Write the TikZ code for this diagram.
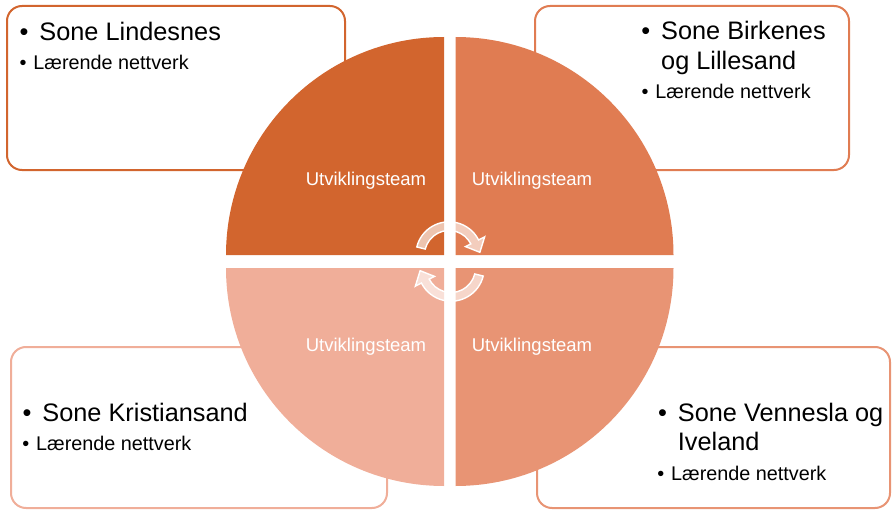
\documentclass[tikz,border=0pt]{standalone}
\usepackage{fontspec}
\setmainfont{Liberation Sans}
\definecolor{cTL}{HTML}{D2652E}
\definecolor{cTR}{HTML}{E07C52}
\definecolor{cBL}{HTML}{F0AE99}
\definecolor{cBR}{HTML}{E89474}
\begin{document}
\begin{tikzpicture}[x=1pt,y=-1pt,
  zone/.style={draw=#1, line width=2pt, rounded corners=15pt, fill=white},
  quad/.style={fill=#1},
  team/.style={text=white, font=\fontsize{18.5}{20}\selectfont, inner sep=0pt, anchor=base},
  head/.style={font=\fontsize{25.3}{28}\selectfont, inner sep=0pt, anchor=base west, text=black},
  sub/.style={font=\fontsize{19.8}{22}\selectfont, inner sep=0pt, anchor=base west, text=black},
  cyc/.style={fill=white, fill opacity=0.62, draw=white, line width=1.4pt}]
\useasboundingbox (0,0) rectangle (892,511);

% zone boxes
\path[zone=cTL] (7,6) rectangle (345,170);
\path[zone=cTR] (535,6) rectangle (849,170);
\path[zone=cBL] (11,347) rectangle (387,508);
\path[zone=cBR] (537,347) rectangle (890,508);

% quadrants
\fill[quad=cTL] (444,255) -- ++(-218,0) arc[start angle=180, end angle=270, radius=218] -- cycle;
\fill[quad=cTR] (455.5,255) -- ++(218,0) arc[start angle=0, end angle=-90, radius=218] -- cycle;
\fill[quad=cBL] (444,268) -- ++(-218,0) arc[start angle=180, end angle=90, radius=218] -- cycle;
\fill[quad=cBR] (455.5,268) -- ++(218,0) arc[start angle=0, end angle=90, radius=218] -- cycle;

% team labels
\node[team] (t1) at (366,185.7) {Utviklingsteam};
\node[team] (t2) at (532,185.7) {Utviklingsteam};
\node[team] (t3) at (366,351) {Utviklingsteam};
\node[team] (t4) at (532,351) {Utviklingsteam};

% zone texts
\node[head] (h1) at (19.5,40.7) {\makebox[19.8pt][l]{•}Sone Lindesnes};
\node[sub] (s1) at (19.5,70) {\makebox[13.8pt][l]{•}Lærende nettverk};

\node[head] (h2a) at (641.2,40) {\makebox[19.8pt][l]{•}Sone Birkenes};
\node[head] (h2b) at (661,69.3) {og Lillesand};
\node[sub] (s2) at (641.5,99) {\makebox[13.8pt][l]{•}Lærende nettverk};

\node[head] (h3) at (22.5,421) {\makebox[19.8pt][l]{•}Sone Kristiansand};
\node[sub] (s3) at (22.2,450) {\makebox[13.8pt][l]{•}Lærende nettverk};

\node[head] (h4a) at (657.9,421.7) {\makebox[19.8pt][l]{•}Sone Vennesla og};
\node[head] (h4b) at (677.7,450) {Iveland};
\node[sub] (s4) at (657.2,480) {\makebox[13.8pt][l]{•}Lærende nettverk};

% circular arrows
\begin{scope}[shift={(449,255)}, yscale=-1]
  \path[cyc] (166:33.2) arc[start angle=166, end angle=27, radius=33.2]
    -- (27:40) -- (5:31) -- (27:18.5) -- (27:24.5)
    arc[start angle=27, end angle=166, radius=24.5] -- cycle;
\end{scope}
\begin{scope}[shift={(451,268)}, yscale=-1, rotate=180]
  \path[cyc] (166:33.2) arc[start angle=166, end angle=27, radius=33.2]
    -- (27:40) -- (5:31) -- (27:18.5) -- (27:24.5)
    arc[start angle=27, end angle=166, radius=24.5] -- cycle;
\end{scope}
\end{tikzpicture}
\end{document}
